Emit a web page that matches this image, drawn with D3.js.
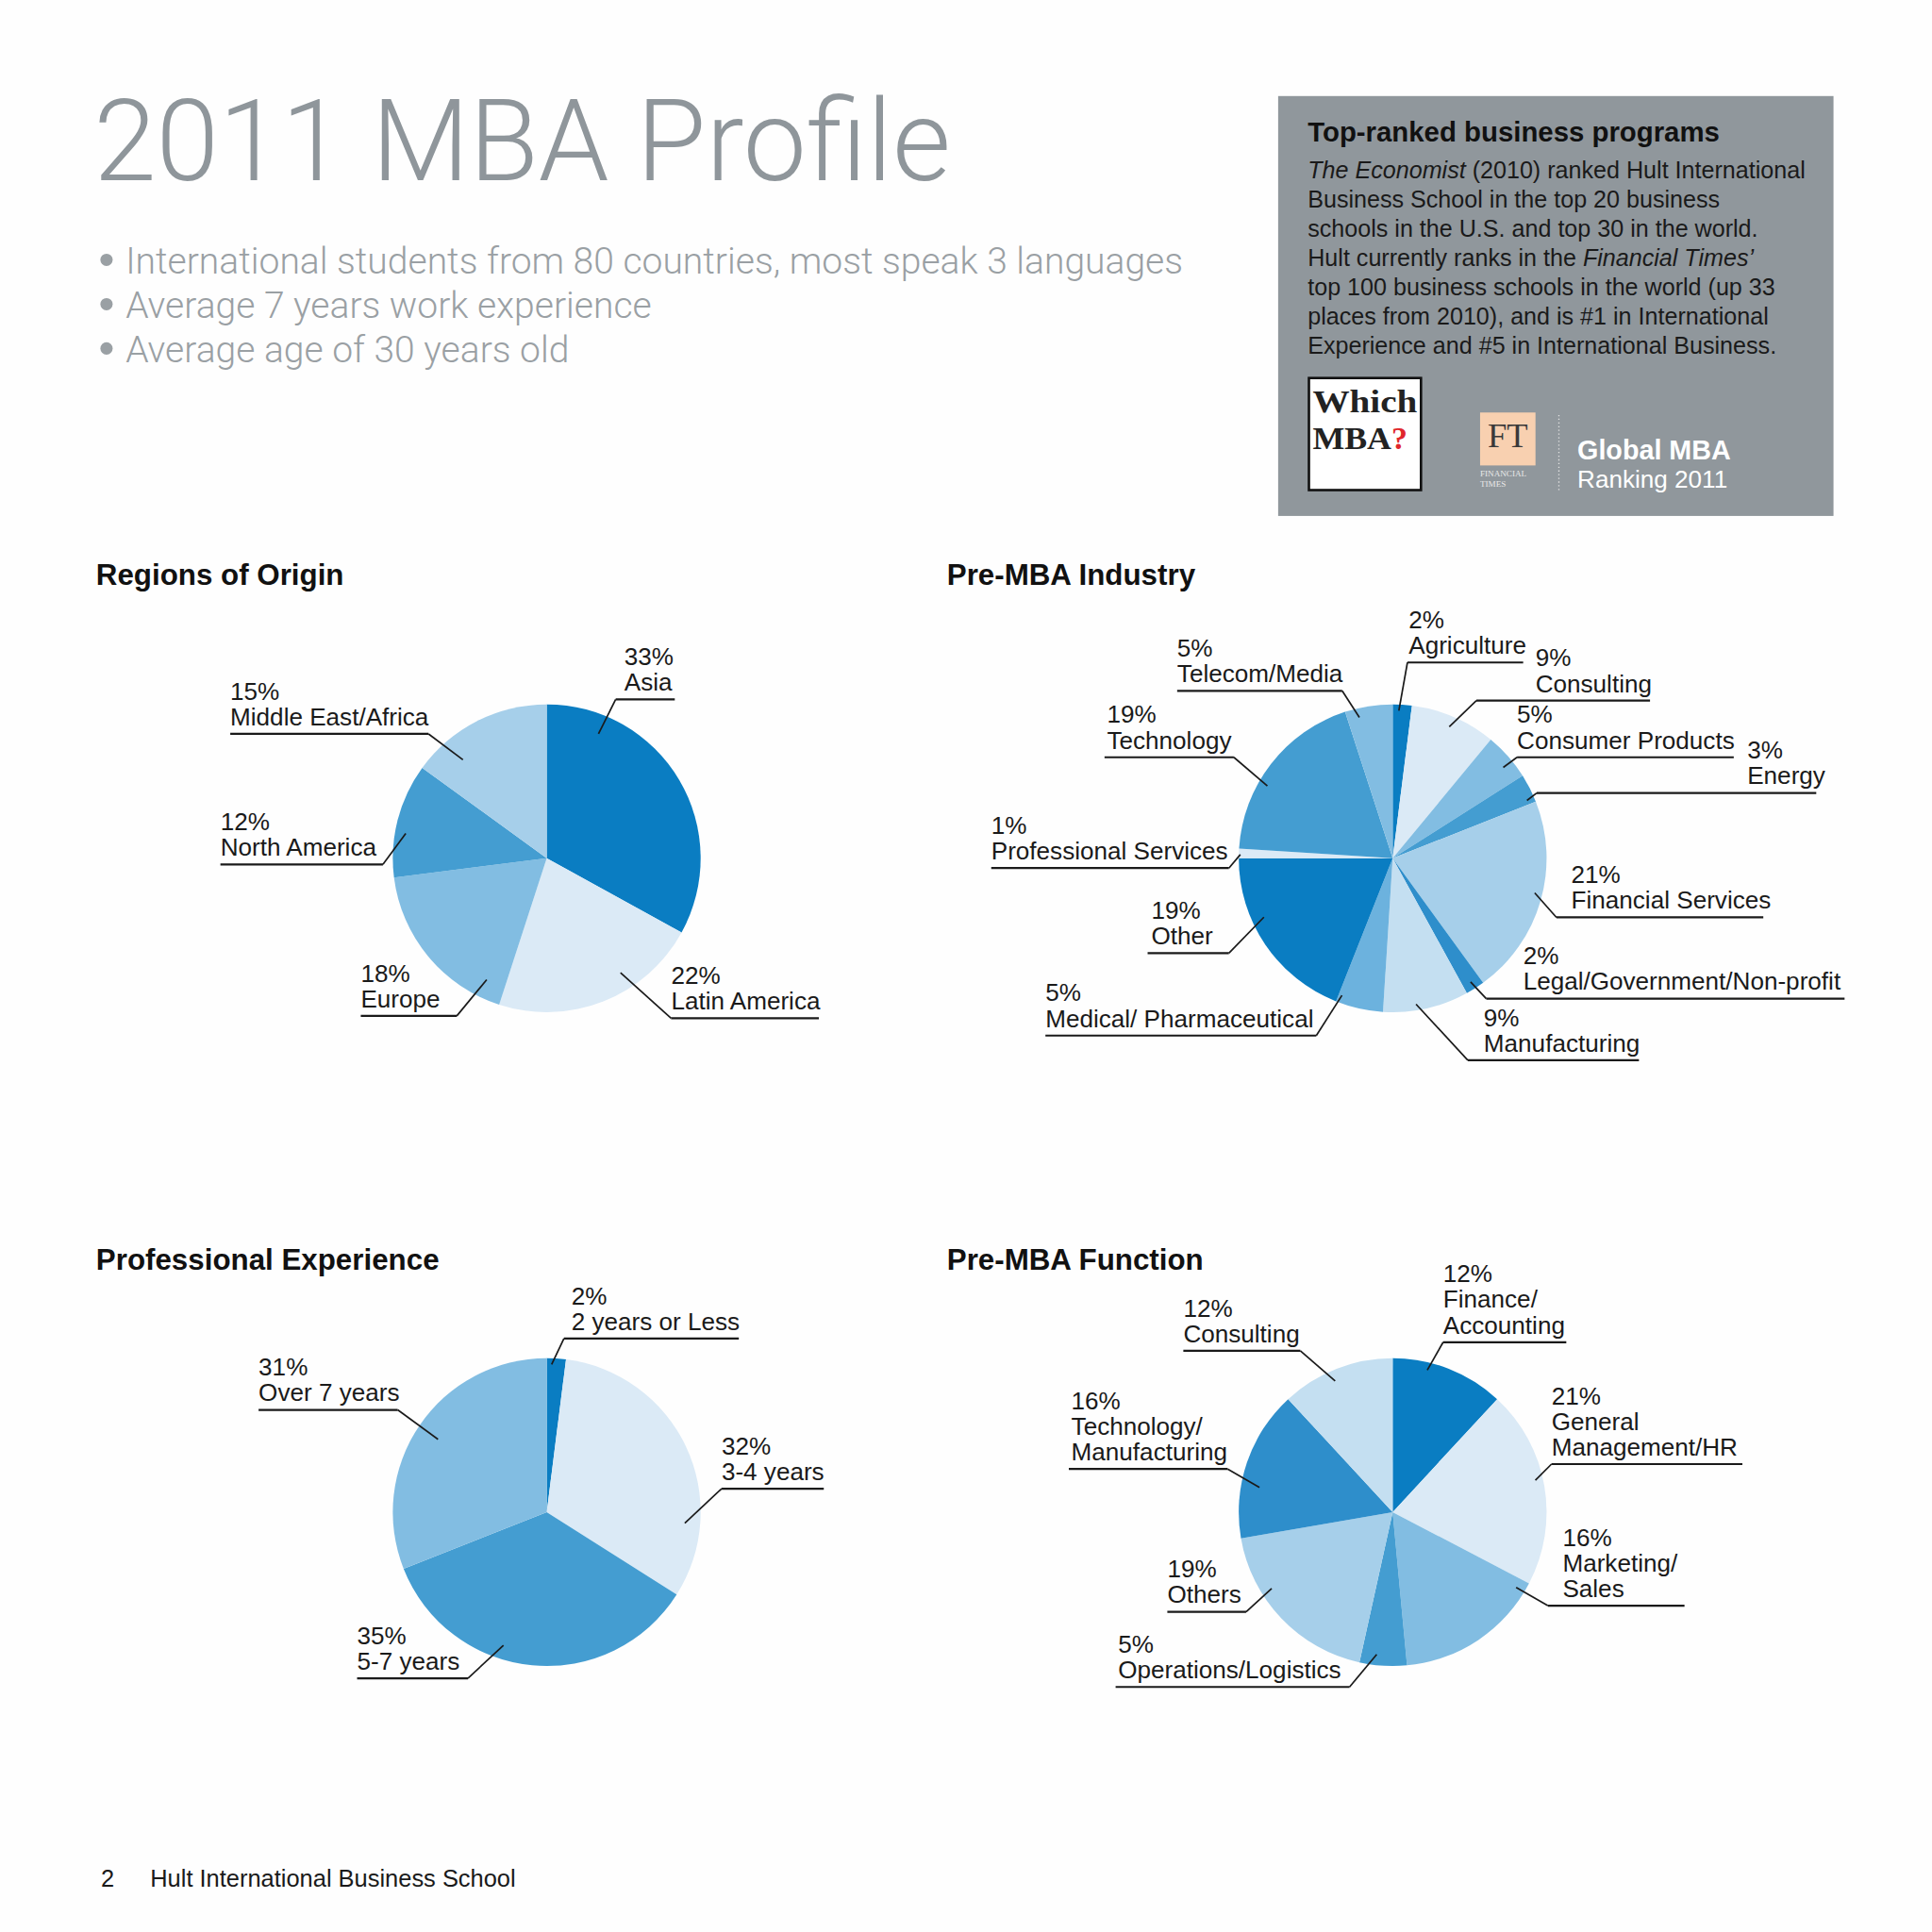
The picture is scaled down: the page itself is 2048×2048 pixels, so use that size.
<!DOCTYPE html>
<meta charset="utf-8">
<script src="https://d3js.org/d3.v7.min.js"></script>
<style>
  body { margin: 0; background: #fefefe; }
  text { font-family: "Liberation Sans", Arial, sans-serif; }
</style>
<div id="page"></div>
<script>

// ---- data ----
var regionCats = ["Asia", "Latin America", "Europe", "North America", "Middle East/Africa"];
var regionVals = [33, 22, 18, 12, 15];

var industryCats = ["Agriculture", "Consulting", "Consumer Products", "Energy", "Financial Services",
  "Legal/Government/Non-profit", "Manufacturing", "Medical/ Pharmaceutical", "Other",
  "Professional Services", "Technology", "Telecom/Media"];
var industryVals = [2, 9, 5, 3, 21, 2, 9, 5, 19, 1, 19, 5];

var experienceCats = ["2 years or Less", "3-4 years", "5-7 years", "Over 7 years"];
var experienceVals = [2, 32, 35, 31];

var functionCats = ["Finance/\nAccounting", "General\nManagement/HR", "Marketing/\nSales",
  "Operations/Logistics", "Others", "Technology/\nManufacturing", "Consulting"];
var functionVals = [12, 21, 16, 5, 19, 16, 12];

var bullets = [
  "International students from 80 countries, most speak 3 languages",
  "Average 7 years work experience",
  "Average age of 30 years old"
];

// ---- colours ----
var dark = "#0a7dc2", med = "#449dd1", medDark = "#2e8ecb", mid = "#82bde2",
    medical = "#6cb2de", light = "#a6cfea", lighter = "#c4dff1", pale = "#dbeaf6";

var regionColors = [dark, pale, mid, med, light];
var industryColors = [dark, pale, mid, med, light, medDark, lighter, medical, dark, pale, med, mid];
var experienceColors = [dark, pale, med, mid];
var functionColors = [dark, pale, mid, med, light, medDark, lighter];

// ---- label layout: text x, underline y / x-range, leader side, anchor angle (deg) + radius fraction ----
var regionLayout = [
  {x: 507, uy: 568, u0: 500, u1: 548, side: "l", a: 22.6, k: 0.875},
  {x: 545, uy: 827, u0: 545, u1: 665, side: "l", a: 147.2, k: 0.885},
  {x: 293, uy: 825, u0: 293, u1: 371, side: "r", a: 206.3, k: 0.88},
  {x: 179, uy: 702, u0: 179, u1: 311, side: "r", a: 280, k: 0.93},
  {x: 187, uy: 596, u0: 187, u1: 348, side: "r", a: 319.6, k: 0.84}
];
var industryLayout = [
  {x: 1144, uy: 538, u0: 1143, u1: 1237, side: "l", a: 2.4, k: 0.96},
  {x: 1247, uy: 569, u0: 1199, u1: 1340, side: "l", a: 23.3, k: 0.93},
  {x: 1232, uy: 615, u0: 1232, u1: 1408, side: "l", a: 50.6, k: 0.93},
  {x: 1419, uy: 644, u0: 1248, u1: 1475, side: "l", a: 66.7, k: 0.95},
  {x: 1276, uy: 745, u0: 1264, u1: 1432, side: "l", a: 103.7, k: 0.95},
  {x: 1237, uy: 811, u0: 1207, u1: 1498, side: "l", a: 147.8, k: 0.95},
  {x: 1205, uy: 861, u0: 1192, u1: 1331, side: "l", a: 170.9, k: 0.96},
  {x: 849, uy: 841, u0: 849, u1: 1069, side: "r", a: 200.3, k: 0.95},
  {x: 935, uy: 774, u0: 932, u1: 998, side: "r", a: 245.4, k: 0.92},
  {x: 805, uy: 705, u0: 805, u1: 998, side: "r", a: 271.4, k: 0.99},
  {x: 899, uy: 615, u0: 897, u1: 1002, side: "r", a: 300, k: 0.94},
  {x: 956, uy: 561, u0: 956, u1: 1090, side: "r", a: 346.7, k: 0.94}
];
var experienceLayout = [
  {x: 464, uy: 1087, u0: 458, u1: 600, side: "l", a: 1.9, k: 0.96},
  {x: 586, uy: 1209, u0: 586, u1: 669, side: "l", a: 94.6, k: 0.9},
  {x: 290, uy: 1363, u0: 290, u1: 380, side: "r", a: 198, k: 0.91},
  {x: 210, uy: 1145, u0: 210, u1: 323, side: "r", a: 303.8, k: 0.85}
];
var functionLayout = [
  {x: 1172, uy: 1090, u0: 1172, u1: 1272, side: "l", a: 13.7, k: 0.95},
  {x: 1260, uy: 1189, u0: 1260, u1: 1415, side: "l", a: 77.4, k: 0.95},
  {x: 1269, uy: 1304, u0: 1257, u1: 1368, side: "l", a: 121.4, k: 0.94},
  {x: 908, uy: 1370, u0: 906, u1: 1096, side: "r", a: 186.4, k: 0.93},
  {x: 948, uy: 1309, u0: 948, u1: 1012, side: "r", a: 237.7, k: 0.93},
  {x: 870, uy: 1193, u0: 868, u1: 997, side: "r", a: 280.5, k: 0.88},
  {x: 961, uy: 1097, u0: 961, u1: 1056, side: "r", a: 336.3, k: 0.93}
];

// page is laid out on a 1569 grid and scaled up to 2048
var svg = d3.select("#page").append("svg")
  .attr("width", 2048).attr("height", 2048)
  .attr("viewBox", "0 0 1569 1569");

svg.append("rect").attr("width", 1569).attr("height", 1569).attr("fill", "#fefefe");

// title + bullets
svg.append("text")
  .attr("x", 76).attr("y", 146)
  .attr("font-size", 91.7).attr("fill", "#8f969b")
  .style("font-family", "Roboto, 'Liberation Sans', sans-serif").style("font-weight", 300)
  .text("2011 MBA Profile");

bullets.forEach(function(b, i) {
  var y = 222 + i * 36;
  svg.append("circle").attr("cx", 86.5).attr("cy", y - 11).attr("r", 5).attr("fill", "#9aa0a4");
  svg.append("text")
    .attr("x", 102).attr("y", y)
    .attr("font-size", 29.9).attr("fill", "#9aa0a4")
    .style("font-family", "Roboto, 'Liberation Sans', sans-serif").style("font-weight", 300)
    .text(b);
});

// ranking box
var box = svg.append("g");
box.append("rect").attr("x", 1038).attr("y", 78).attr("width", 451).attr("height", 341).attr("fill", "#90979c");
box.append("text").attr("x", 1062).attr("y", 115).attr("font-size", 22.5).attr("font-weight", "bold")
  .attr("fill", "#111").text("Top-ranked business programs");

var boxLines = [
  [["The Economist", true], [" (2010) ranked Hult International", false]],
  [["Business School in the top 20 business", false]],
  [["schools in the U.S. and top 30 in the world.", false]],
  [["Hult currently ranks in the ", false], ["Financial Times’", true]],
  [["top 100 business schools in the world (up 33", false]],
  [["places from 2010), and is #1 in International", false]],
  [["Experience and #5 in International Business.", false]]
];
boxLines.forEach(function(parts, i) {
  var t = box.append("text").attr("x", 1062).attr("y", 145 + i * 23.7)
    .attr("font-size", 19.25).attr("fill", "#1a1a1a");
  parts.forEach(function(p) {
    t.append("tspan").attr("font-style", p[1] ? "italic" : "normal").text(p[0]);
  });
});

// Which MBA? logo
box.append("rect").attr("x", 1063).attr("y", 307).attr("width", 91).attr("height", 91)
  .attr("fill", "#fff").attr("stroke", "#111").attr("stroke-width", 2);
box.append("text").attr("x", 1066).attr("y", 335).attr("font-size", 26).attr("font-weight", "bold")
  .style("font-family", "'Liberation Serif', serif").attr("fill", "#222")
  .attr("textLength", 85).attr("lengthAdjust", "spacingAndGlyphs").text("Which");
var mba = box.append("text").attr("x", 1066).attr("y", 365).attr("font-size", 26).attr("font-weight", "bold")
  .style("font-family", "'Liberation Serif', serif").attr("fill", "#222");
mba.append("tspan").attr("textLength", 64).attr("lengthAdjust", "spacingAndGlyphs").text("MBA");
mba.append("tspan").attr("fill", "#e0262c").text("?");

// FT logo
box.append("rect").attr("x", 1202).attr("y", 335).attr("width", 45).attr("height", 43).attr("fill", "#f8d0b0");
box.append("text").attr("x", 1224.5).attr("y", 363).attr("text-anchor", "middle").attr("font-size", 28)
  .style("font-family", "'Liberation Serif', serif").attr("fill", "#3a3a3a").text("FT");
box.append("text").attr("x", 1202).attr("y", 387).attr("font-size", 7)
  .style("font-family", "'Liberation Serif', serif").attr("fill", "#e8e8e8").text("FINANCIAL");
box.append("text").attr("x", 1202).attr("y", 395.5).attr("font-size", 7)
  .style("font-family", "'Liberation Serif', serif").attr("fill", "#e8e8e8").text("TIMES");
box.append("line").attr("x1", 1266).attr("x2", 1266).attr("y1", 337).attr("y2", 398)
  .attr("stroke", "#e4e4e4").attr("stroke-width", 1).attr("stroke-dasharray", "1,2");
box.append("text").attr("x", 1281).attr("y", 373).attr("font-size", 22).attr("font-weight", "bold")
  .attr("fill", "#fff").text("Global MBA");
box.append("text").attr("x", 1281).attr("y", 396).attr("font-size", 20)
  .attr("fill", "#fff").text("Ranking 2011");

// ---- pies ----
var radius = 125;
var pie = d3.pie().sort(null).value(function(d) { return d; });
var arc = d3.arc().innerRadius(0).outerRadius(radius);
var toRad = Math.PI / 180;

function drawPie(title, tx, ty, cx, cy, cats, vals, colors, layout) {
  svg.append("text").attr("x", tx).attr("y", ty)
    .attr("font-size", 24).attr("font-weight", "bold").attr("fill", "#111")
    .text(title);

  var g = svg.append("g").attr("transform", "translate(" + cx + "," + cy + ")");
  var arcs = pie(vals);

  g.selectAll("path")
    .data(arcs)
    .enter()
    .append("path")
      .attr("d", arc)
      .attr("fill", function(d, i) { return colors[i]; });

  arcs.forEach(function(d, i) {
    var L = layout[i];
    var p = d3.pointRadial(L.a * toRad, radius * L.k);
    var ex = L.side === "l" ? L.u0 : L.u1;

    svg.append("line")
      .attr("x1", cx + p[0]).attr("y1", cy + p[1])
      .attr("x2", ex).attr("y2", L.uy)
      .attr("stroke", "#1a1a1a").attr("stroke-width", 1.3);
    svg.append("line")
      .attr("x1", L.u0).attr("x2", L.u1)
      .attr("y1", L.uy).attr("y2", L.uy)
      .attr("stroke", "#1a1a1a").attr("stroke-width", 1.7);

    var lines = [d.value + "%"].concat(cats[i].split("\n"));
    var n = lines.length;
    svg.append("g").selectAll("text")
      .data(lines)
      .enter()
      .append("text")
        .attr("x", L.x)
        .attr("y", function(s, j) { return L.uy - 7 - (n - 1 - j) * 20.8; })
        .attr("font-size", 20).attr("fill", "#1a1a1a")
        .text(function(s) { return s; });
  });
}

drawPie("Regions of Origin", 78, 475, 444, 697, regionCats, regionVals, regionColors, regionLayout);
drawPie("Pre-MBA Industry", 769, 475, 1131, 697, industryCats, industryVals, industryColors, industryLayout);
drawPie("Professional Experience", 78, 1031, 444, 1228, experienceCats, experienceVals, experienceColors, experienceLayout);
drawPie("Pre-MBA Function", 769, 1031, 1131, 1228, functionCats, functionVals, functionColors, functionLayout);

// footer
svg.append("text").attr("x", 82).attr("y", 1532).attr("font-size", 19.5).attr("fill", "#1a1a1a").text("2");
svg.append("text").attr("x", 122).attr("y", 1532).attr("font-size", 19.5).attr("fill", "#1a1a1a")
  .text("Hult International Business School");

</script>
